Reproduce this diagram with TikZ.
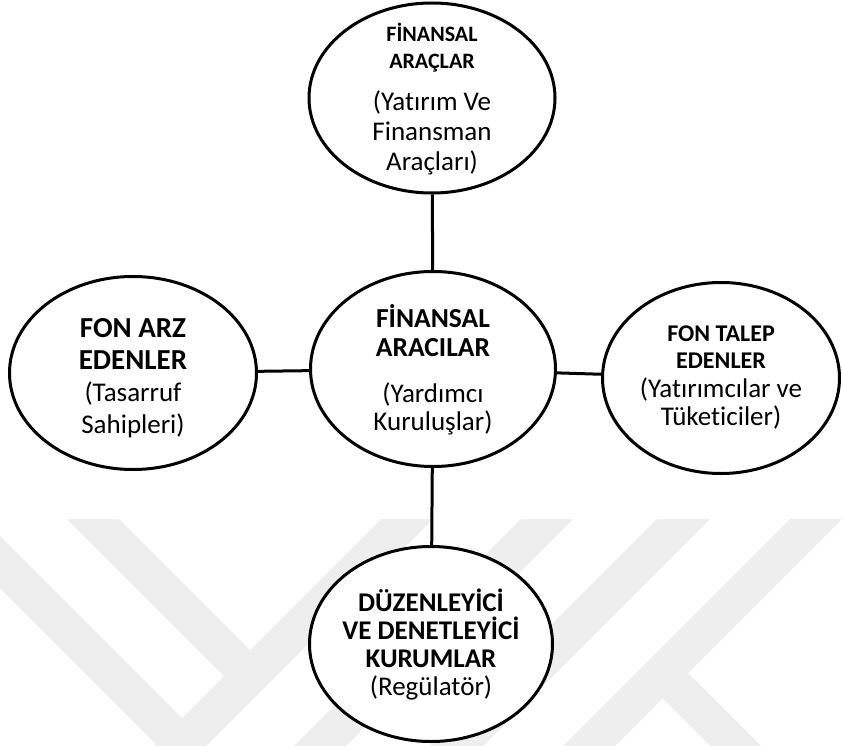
\documentclass[tikz,border=0pt]{standalone}
\usepackage{fontspec}
\setmainfont{Carlito}[Ligatures=NoCommon]
\usetikzlibrary{shapes.geometric}
\definecolor{wmgray}{HTML}{EEEEEE}
\newcommand{\bsz}[2]{{\bfseries\fontsize{#1}{#1}\selectfont #2}}

\begin{document}
\begin{tikzpicture}[x=1pt, y=-1pt,
        bubble/.style={draw, ellipse, line width=3pt, fill=white, inner sep=0pt},
        link/.style={line width=3pt},
        txt/.style={align=center, inner sep=0pt}]
    \useasboundingbox (0,0) rectangle (843,746);
    % watermark in the background
    \fill[wmgray] (67,519) -- (119,519) -- (250,650) -- (224,676) -- cycle;
    \fill[wmgray] (0,536) -- (187,723) -- (161,749) -- (0,588) -- cycle;
    \fill[wmgray] (381,519) -- (433,519) -- (206,746) -- (154,746) -- cycle;
    \fill[wmgray] (521,519) -- (573,519) -- (346,746) -- (294,746) -- cycle;
    \fill[wmgray] (657,519) -- (710,519) -- (483,746) -- (430,746) -- cycle;
    \fill[wmgray] (790,519) -- (842,519) -- (615,746) -- (563,746) -- cycle;
    \fill[wmgray] (677,662) -- (761,746) -- (710,746) -- (652,688) -- cycle;
    % ellipses
    \node[bubble, minimum width=246, minimum height=190] (arac) at (432,98) {};
    \node[bubble, minimum width=247, minimum height=193] (arz) at (133,373) {};
    \node[bubble, minimum width=245, minimum height=195] (aracilar) at (433,369) {};
    \node[bubble, minimum width=237, minimum height=191] (talep) at (721,378) {};
    \node[bubble, minimum width=243, minimum height=195] (reg) at (431,644) {};
    % texts
    \node[txt, font=\fontsize{27}{30}\selectfont] (arac-txt) at (432,99)
        {\bsz{22}{FİNANSAL}\\[-3pt]\bsz{22}{ARAÇLAR}\\[12.7pt](Yatırım Ve\\Finansman\\Araçları)};
    \node[txt, font=\fontsize{27}{32}\selectfont] (arz-txt) at (133,378)
        {\bsz{29}{FON ARZ}\\\bsz{29}{EDENLER}\\(Tasarruf\\Sahipleri)};
    \node[txt, font=\fontsize{27}{28}\selectfont] (aracilar-txt) at (433,370)
        {\bsz{27.5}{FİNANSAL}\\[1pt]\bsz{27.5}{ARACILAR}\\[18pt](Yardımcı\\Kuruluşlar)};
    \node[txt, font=\fontsize{27}{28}\selectfont] (talep-txt) at (721,377)
        {\bsz{24}{FON TALEP}\\[-1pt]\bsz{24}{EDENLER}\\[1pt](Yatırımcılar ve\\Tüketiciler)};
    \node[txt, font=\fontsize{27}{28}\selectfont] (reg-txt) at (431,645)
        {\bsz{27}{DÜZENLEYİCİ}\\\bsz{27}{VE DENETLEYİCİ}\\\bsz{27}{KURUMLAR}\\(Regülatör)};
    % connectors
    \draw[link] (arac) -- (aracilar);
    \draw[link] (arz) -- (aracilar);
    \draw[link] (aracilar) -- (talep);
    \draw[link] (aracilar) -- (reg);
\end{tikzpicture}
\end{document}
